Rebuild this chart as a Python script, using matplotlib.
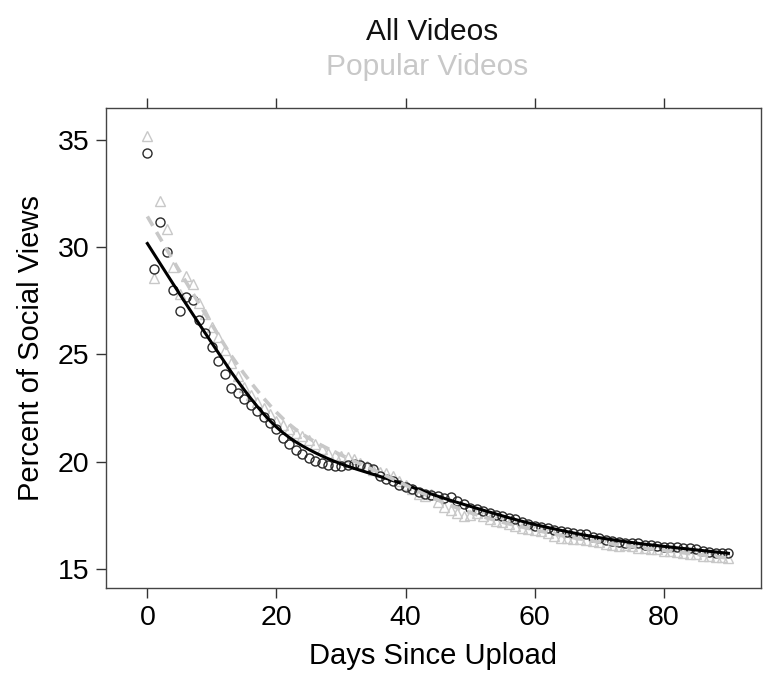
import numpy as np
import matplotlib
matplotlib.use('Agg')
import matplotlib.pyplot as plt

plt.rcParams['font.family'] = ['Liberation Sans', 'DejaVu Sans']

GRAY = "#c8c8c8"

days = list(range(0, 91))

# percent of social views, all videos (circles)
all_videos = [34.4, 29.0, 31.2, 29.8, 28.0, 27.05, 27.7, 27.55, 26.6, 26.0,
              25.35, 24.7, 24.1, 23.45, 23.2, 22.9, 22.65, 22.35, 22.1, 21.8,
              21.5, 21.1, 20.8, 20.55, 20.35, 20.15, 20.05, 19.95, 19.85, 19.8,
              19.8, 19.85, 19.9, 19.85, 19.75, 19.65, 19.35, 19.2, 19.1, 18.9,
              18.8, 18.7, 18.6, 18.5, 18.45, 18.4, 18.3, 18.35, 18.15, 18.0,
              17.85, 17.8, 17.7, 17.6, 17.5, 17.45, 17.35, 17.3, 17.2, 17.1,
              17.0, 16.95, 16.9, 16.8, 16.75, 16.7, 16.65, 16.6, 16.6, 16.5,
              16.45, 16.35, 16.3, 16.25, 16.2, 16.2, 16.2, 16.1, 16.1, 16.05,
              16.0, 16.0, 16.0, 15.95, 15.95, 15.9, 15.85, 15.8, 15.75, 15.75,
              15.75]

# popular videos (triangles)
popular_videos = [35.2, 28.55, 32.15, 30.85, 29.1, 27.8, 28.65, 28.3, 27.4, 26.9,
                  26.3, 25.8, 25.2, 24.6, 24.0, 23.5, 23.1, 22.8, 22.5, 22.2,
                  21.9, 21.7, 21.5, 21.35, 21.2, 21.0, 20.8, 20.6, 20.4, 20.3,
                  20.25, 20.2, 20.1, 19.95, 19.8, 19.6, 19.5, 19.45, 19.35, 19.1,
                  18.9, 18.7, 18.5, 18.4, 18.5, 18.1, 17.9, 17.75, 17.6, 17.45,
                  17.5, 17.6, 17.45, 17.3, 17.25, 17.2, 17.1, 17.0, 16.9, 16.85,
                  16.8, 16.75, 16.65, 16.55, 16.45, 16.45, 16.4, 16.4, 16.35, 16.3,
                  16.25, 16.15, 16.1, 16.05, 16.1, 16.05, 15.95, 15.95, 15.9, 15.9,
                  15.85, 15.85, 15.8, 15.75, 15.7, 15.7, 15.6, 15.6, 15.55, 15.55,
                  15.5]

x_ticks = [0, 20, 40, 60, 80]
y_ticks = [15, 20, 25, 30, 35]


def lowess(x, y, frac=0.29, iters=3, min_scale=0.2):
    # local-linear smoother, tricube weights, a few robustness passes
    # (scale floored so only real outliers like day 0 get dropped)
    x = np.asarray(x, float)
    y = np.asarray(y, float)
    n = len(x)
    k = int(np.ceil(frac * n))
    rw = np.ones(n)
    out = np.empty(n)
    for _ in range(iters + 1):
        for i in range(n):
            d = np.abs(x - x[i])
            h = np.sort(d)[k - 1]
            w = np.clip(1 - (d / h) ** 3, 0, None) ** 3 * rw
            W = np.sum(w)
            xm = np.sum(w * x) / W
            ym = np.sum(w * y) / W
            b = np.sum(w * (x - xm) * (y - ym)) / np.sum(w * (x - xm) ** 2)
            out[i] = ym + b * (x[i] - xm)
        res = y - out
        s = max(np.median(np.abs(res)), min_scale)
        rw = np.clip(1 - (res / (6 * s)) ** 2, 0, None) ** 2
    return out


fig = plt.figure(figsize=(7.63, 6.73), dpi=100)
ax = fig.add_axes([0.139, 0.1263, 0.858, 0.7132])

ax.plot(days, popular_videos, linestyle='none', marker='^', markersize=7.5,
        markerfacecolor='none', markeredgecolor=GRAY, markeredgewidth=1.0)
ax.plot(days, all_videos, linestyle='none', marker='o', markersize=6.5,
        markerfacecolor='none', markeredgecolor='#2a2a2a', markeredgewidth=1.0)

ax.plot(days, lowess(days, all_videos), color='black', lw=2.2)
ax.plot(days, lowess(days, popular_videos), color=GRAY, lw=2.6, dashes=(3, 2))

ax.set_xlim(-6.4, 95.0)
ax.set_ylim(14.1, 36.5)
ax.set_xticks(x_ticks)
ax.set_yticks(y_ticks)
ax.tick_params(axis='both', direction='out', length=7, width=1, color='#333333',
               labelsize=20.5, pad=5, top=True, labeltop=False)
for s in ax.spines.values():
    s.set_color('#444444')
    s.set_linewidth(1.0)

ax.set_xlabel("Days Since Upload", fontsize=21, labelpad=8)
ax.set_ylabel("Percent of Social Views", fontsize=21, labelpad=9)

fig.text(0.566, 0.953, "All Videos", ha='center', va='center', fontsize=21.5, color='#111111')
fig.text(0.560, 0.900, "Popular Videos", ha='center', va='center', fontsize=21.5, color=GRAY)

fig.savefig("out.png", dpi=100)
